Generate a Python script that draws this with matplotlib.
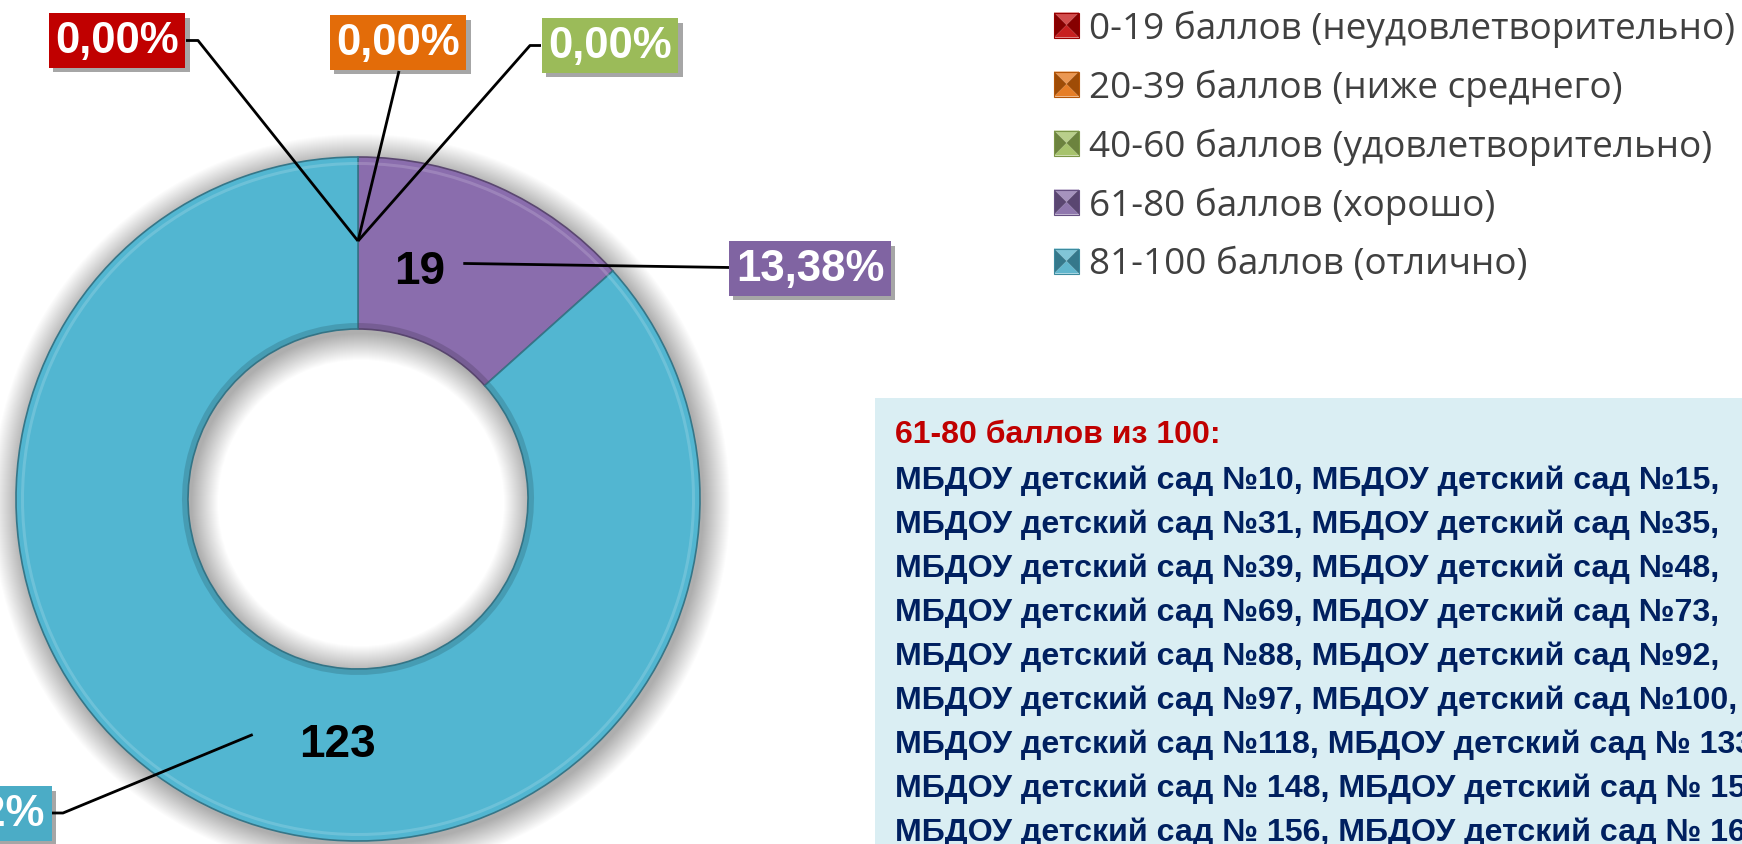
import numpy as np
import matplotlib
matplotlib.use("Agg")
import matplotlib.pyplot as plt
from matplotlib.patches import Wedge, Rectangle, Polygon
import matplotlib.patheffects as pe
from matplotlib.colors import to_rgb

# ---------------- data ----------------
categories = ['0-19 баллов (неудовлетворительно)',
              '20-39 баллов (ниже среднего)',
              '40-60 баллов (удовлетворительно)',
              '61-80 баллов (хорошо)',
              '81-100 баллов (отлично)']
counts = [0, 0, 0, 19, 123]
label_colors = ['#C00000', '#E36C09', '#9BBB59', '#8064A2', '#4BACC6']
ring_colors = ['#C0262A', '#E9731B', '#A2C05F', '#8A6DAD', '#52B6D1']

box_title = '61-80 баллов из 100:'
box_lines = [
    'МБДОУ детский сад №10, МБДОУ детский сад №15,',
    'МБДОУ детский сад №31, МБДОУ детский сад №35,',
    'МБДОУ детский сад №39, МБДОУ детский сад №48,',
    'МБДОУ детский сад №69, МБДОУ детский сад №73,',
    'МБДОУ детский сад №88, МБДОУ детский сад №92,',
    'МБДОУ детский сад №97, МБДОУ детский сад №100,',
    'МБДОУ детский сад №118, МБДОУ детский сад № 133',
    'МБДОУ детский сад № 148, МБДОУ детский сад № 15',
    'МБДОУ детский сад № 156, МБДОУ детский сад № 16',
]

# ---------------- layout ----------------
W, H = 1742, 845
fig = plt.figure(figsize=(W / 100, H / 100), dpi=100)
ax = fig.add_axes([0, 0, 1, 1])


def Y(y):  # convert top-based pixel y to data y
    return H - y


def shade(c, f):
    r, g, b = to_rgb(c)
    if f >= 0:
        return (r + (1 - r) * f, g + (1 - g) * f, b + (1 - b) * f)
    f = -f
    return (r * (1 - f), g * (1 - f), b * (1 - f))


cx, cy = 358, Y(500)
R, ring_w = 342, 172
r_in = R - ring_w

# soft shadow around the ring
for k in range(1, 28):
    ax.add_patch(Wedge((cx + 3, cy - 4), R + k, 0, 360,
                       width=(R + k) - (r_in - k), facecolor='black',
                       alpha=0.013, lw=0, zorder=0))

wedges, _ = ax.pie(counts, colors=ring_colors, startangle=90, counterclock=False,
                   radius=R, center=(cx, cy), frame=True,
                   wedgeprops=dict(width=ring_w, linewidth=1.2))
for w, c in zip(wedges, ring_colors):
    w.set_edgecolor(shade(c, -0.35))
    w.set_zorder(2)

# bevel: highlight near outer edge, dark band near inner edge
hl, _ = ax.pie(counts, colors=[shade(c, 0.35) for c in ring_colors], startangle=90,
               counterclock=False, radius=R - 5, center=(cx, cy), frame=True,
               wedgeprops=dict(width=3, linewidth=0, alpha=0.45))
dk, _ = ax.pie(counts, colors=[shade(c, -0.4) for c in ring_colors], startangle=90,
               counterclock=False, radius=r_in + 6, center=(cx, cy), frame=True,
               wedgeprops=dict(width=6, linewidth=0, alpha=0.35))
for w in list(hl) + list(dk):
    w.set_zorder(3)

ax.set_xlim(0, W)
ax.set_ylim(0, H)
ax.axis('off')

# mid points of each slice (at mid radius)
total = float(np.sum(counts))
cum = np.cumsum(counts)
mid_ang = np.deg2rad(90 - 360 * (cum - np.array(counts) / 2) / total)
r_mid = R - ring_w / 2 + 2
mid_pts = [(cx + r_mid * np.cos(a), cy + r_mid * np.sin(a)) for a in mid_ang]

# percentage label boxes: centre (top-based px) and leader elbows
box_pos = [(117, 41.5), (398, 43.5), (610, 46.5), (810, 269.5), (-29, 814.5)]
leader_pts = [
    [(198, 41.5), (186, 41.5)],
    [(399, 72)],
    [(530, 46.5), (541, 46.5)],
    [(730, 268.5)],
    [(63, 814), (51, 814)],
]
for i in range(len(counts)):
    pts = [mid_pts[i]] + [(x, Y(y)) for x, y in leader_pts[i]]
    xs, ys = zip(*pts)
    ax.plot(xs, ys, color='black', lw=2, zorder=6, solid_capstyle='butt')
    pct = 100 * counts[i] / total
    txt = f'{pct:.2f}%'.replace('.', ',')
    bx, by = box_pos[i]
    t = ax.text(bx, Y(by), txt, ha='center', va='center', color='white',
                fontsize=31.5, fontweight='bold', family='Liberation Sans', zorder=8,
                bbox=dict(boxstyle='square,pad=0.15', fc=label_colors[i], ec='none'))
    t.get_bbox_patch().set_path_effects(
        [pe.withSimplePatchShadow(offset=(3, -3), shadow_rgbFace='black', alpha=0.35)])

# value labels inside ring
value_pos = {3: (420, 284), 4: (337, 757)}
for i, (vx, vy) in value_pos.items():
    ax.text(vx, Y(vy), str(counts[i]), ha='center', va='baseline', color='black',
            fontsize=33, fontweight='bold', family='Liberation Sans', zorder=9)

# ---------------- legend ----------------
leg_rows = [26, 85, 144, 203, 262]
mx0, msz = 1054, 25
renderer = fig.canvas.get_renderer()
leg_texts = []
for i, lab in enumerate(categories):
    yc = Y(leg_rows[i])
    c = label_colors[i]
    x0, x1 = mx0, mx0 + msz
    y0, y1 = yc - msz / 2, yc + msz / 2
    xm, ymid = (x0 + x1) / 2, yc
    ax.add_patch(Polygon([(x0, y0), (x1, y0), (xm, ymid)], closed=True,
                         fc=shade(c, 0.12), ec='none', zorder=5))
    ax.add_patch(Polygon([(x0, y1), (x1, y1), (xm, ymid)], closed=True,
                         fc=shade(c, 0.3), ec='none', zorder=5))
    ax.add_patch(Polygon([(x0, y0), (x0, y1), (xm, ymid)], closed=True,
                         fc=shade(c, -0.3), ec='none', zorder=5))
    ax.add_patch(Polygon([(x1, y0), (x1, y1), (xm, ymid)], closed=True,
                         fc=shade(c, -0.3), ec='none', zorder=5))
    ax.add_patch(Rectangle((x0, y0), msz, msz, fc='none', ec=shade(c, -0.2), lw=0.8, zorder=5))
    t = ax.text(1089, yc - 3, lab, ha='left', va='center', color='#404040',
                fontsize=20, family=['Open Sans', 'DejaVu Sans'], zorder=5)
    leg_texts.append(t)
w0 = leg_texts[0].get_window_extent(renderer=renderer).width
fs = 20 * 646 / w0
for t in leg_texts:
    t.set_fontsize(fs)

# ---------------- text box ----------------
ax.add_patch(Rectangle((875, 0), W - 875, Y(399), fc='#DAEEF3', ec='none', zorder=1))
ax.text(895, Y(443), box_title, ha='left', va='baseline', color='#C00000',
        fontsize=23, fontweight='bold', family='Liberation Sans', zorder=5)
for j, line in enumerate(box_lines):
    ax.text(895, Y(489 + j * 44), line, ha='left', va='baseline', color='#002060',
            fontsize=23.1, fontweight='bold', family='Liberation Sans', zorder=5)

fig.savefig('out.png', dpi=100)
